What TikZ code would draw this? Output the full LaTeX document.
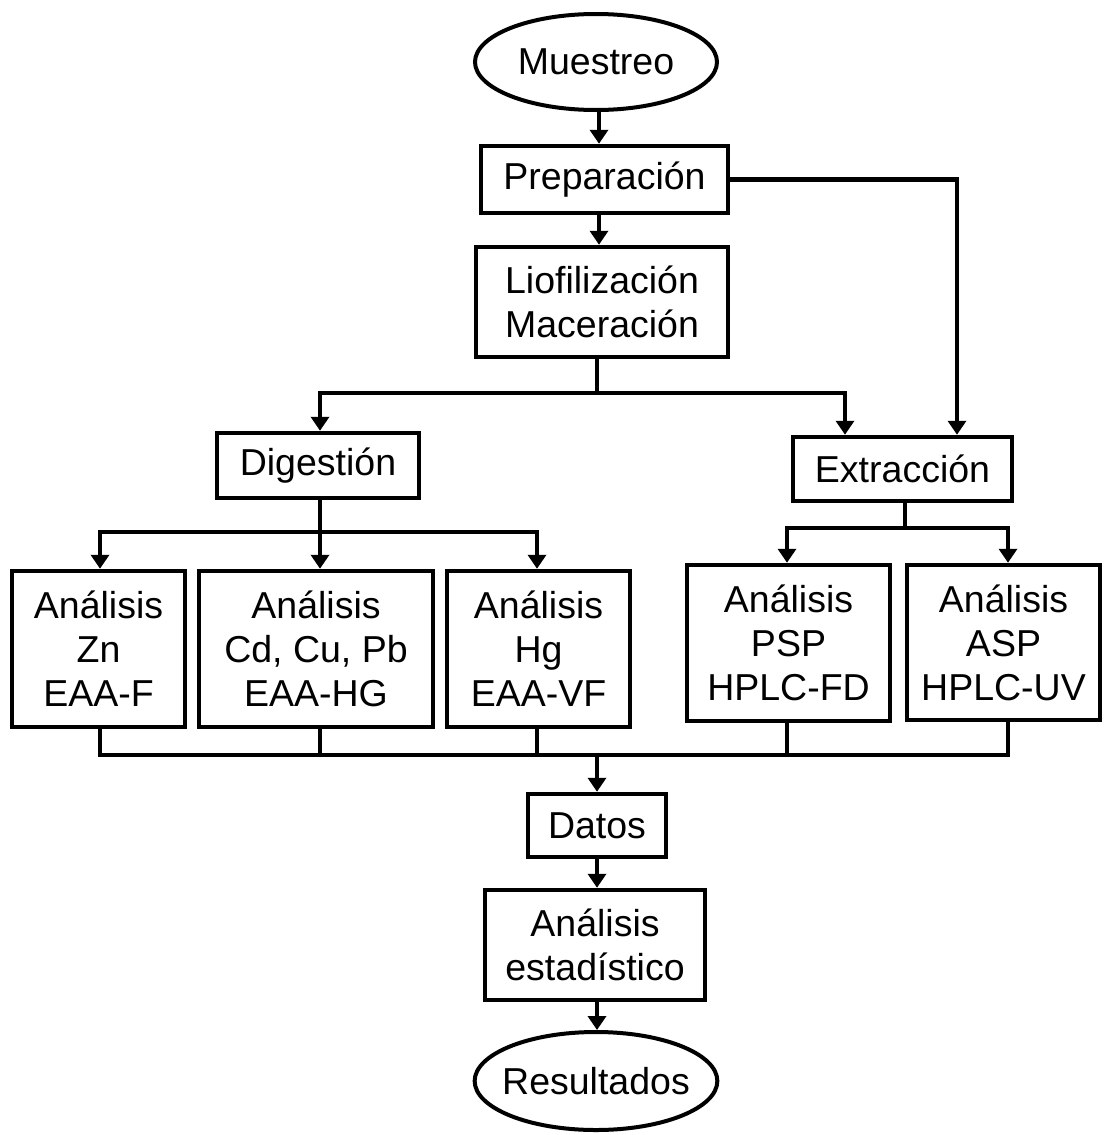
\documentclass[tikz,border=0pt]{standalone}
\usepackage{fontspec}
\setmainfont{Liberation Sans}
\usetikzlibrary{arrows.meta,shapes.geometric,calc}
\begin{document}
\begin{tikzpicture}[x=1pt,y=-1pt,
  every node/.style={font=\fontsize{37.5}{44}\selectfont, align=center, inner sep=0pt},
  stepbox/.style={draw, line width=4.5pt, rectangle},
  term/.style={draw, line width=4pt, ellipse},
  link/.style={line width=4.5pt, line join=miter},
  arr/.style={link, -{Triangle[length=14pt,width=18pt]}}]
\useasboundingbox (0,0) rectangle (1104,1135);

% terminals
\node[term, minimum width=242pt, minimum height=96pt] (mue) at (596,62) {Muestreo};
\node[term, inner xsep=-8pt, minimum width=242pt, minimum height=98pt] (res) at (596,1081) {Resultados};

% main chain
\node[stepbox, minimum width=247pt, minimum height=67pt] (prep) at (604.5,179.5) {Preparación};
\node[stepbox, minimum width=252pt, minimum height=110pt] (lio) at (602,302) {Liofilización\\Maceración};
\node[stepbox, minimum width=202pt, minimum height=65pt] (dig) at (318,465.5) {Digestión};
\node[stepbox, minimum width=219pt, minimum height=64pt] (ext) at (902.5,469) {Extracción};

% analysis boxes
\node[stepbox, minimum width=173pt, minimum height=156pt] (b1) at (98.5,649) {Análisis\\Zn\\EAA-F};
\node[stepbox, minimum width=234pt, minimum height=156pt] (b2) at (316,649) {Análisis\\Cd, Cu, Pb\\EAA-HG};
\node[stepbox, minimum width=183pt, minimum height=156pt] (b3) at (538.5,649) {Análisis\\Hg\\EAA-VF};
\node[stepbox, minimum width=203pt, minimum height=156pt] (b4) at (788.5,643) {Análisis\\PSP\\HPLC-FD};
\node[stepbox, minimum width=193pt, minimum height=155pt] (b5) at (1003.5,642.5) {Análisis\\ASP\\HPLC-UV};

% results chain
\node[stepbox, minimum width=138pt, minimum height=63pt] (dat) at (597,825.5) {Datos};
\node[stepbox, minimum width=220pt, minimum height=110pt] (est) at (595,945) {Análisis\\estadístico};

% junction points
\coordinate (sp) at (599,0);
\coordinate (j1) at (597,393);
\coordinate (j2) at (320,532);
\coordinate (j3) at (905,528);
\coordinate (j4) at (597,755);

% column positions of the branch lines
\coordinate (c1) at (100,0);
\coordinate (c2) at (320,0);
\coordinate (c3) at (537,0);
\coordinate (c4) at (787,0);
\coordinate (c5) at (1008,0);
\coordinate (cd) at (845,0);
\coordinate (cp) at (957,0);

% top spine
\draw[arr] (sp |- mue.south) -- (sp |- prep.north);
\draw[arr] (sp |- prep.south) -- (sp |- lio.north);

% split towards digestion and extraction
\draw[link] (j1 |- lio.south) -- (j1);
\draw[arr] (j1) -| (c2 |- dig.north);
\draw[arr] (j1) -| (cd |- ext.north);
\draw[arr] (prep.east) -| (cp |- ext.north);

% digestion branches
\draw[link] (j2 |- dig.south) -- (j2);
\draw[arr] (j2) -| (c1 |- b1.north);
\draw[arr] (j2) -- (c2 |- b2.north);
\draw[arr] (j2) -| (c3 |- b3.north);

% extraction branches
\draw[link] (j3 |- ext.south) -- (j3);
\draw[arr] (j3) -| (c4 |- b4.north);
\draw[arr] (j3) -| (c5 |- b5.north);

% collecting line
\draw[link] (c1 |- b1.south) -- (c1 |- j4) -- (c5 |- j4) -- (c5 |- b5.south);
\draw[link] (c2 |- b2.south) -- (c2 |- j4);
\draw[link] (c3 |- b3.south) -- (c3 |- j4);
\draw[link] (c4 |- b4.south) -- (c4 |- j4);

% bottom chain
\draw[arr] (j4) -- (j4 |- dat.north);
\draw[arr] (j4 |- dat.south) -- (j4 |- est.north);
\draw[arr] (j4 |- est.south) -- (j4 |- res.north);
\end{tikzpicture}
\end{document}
